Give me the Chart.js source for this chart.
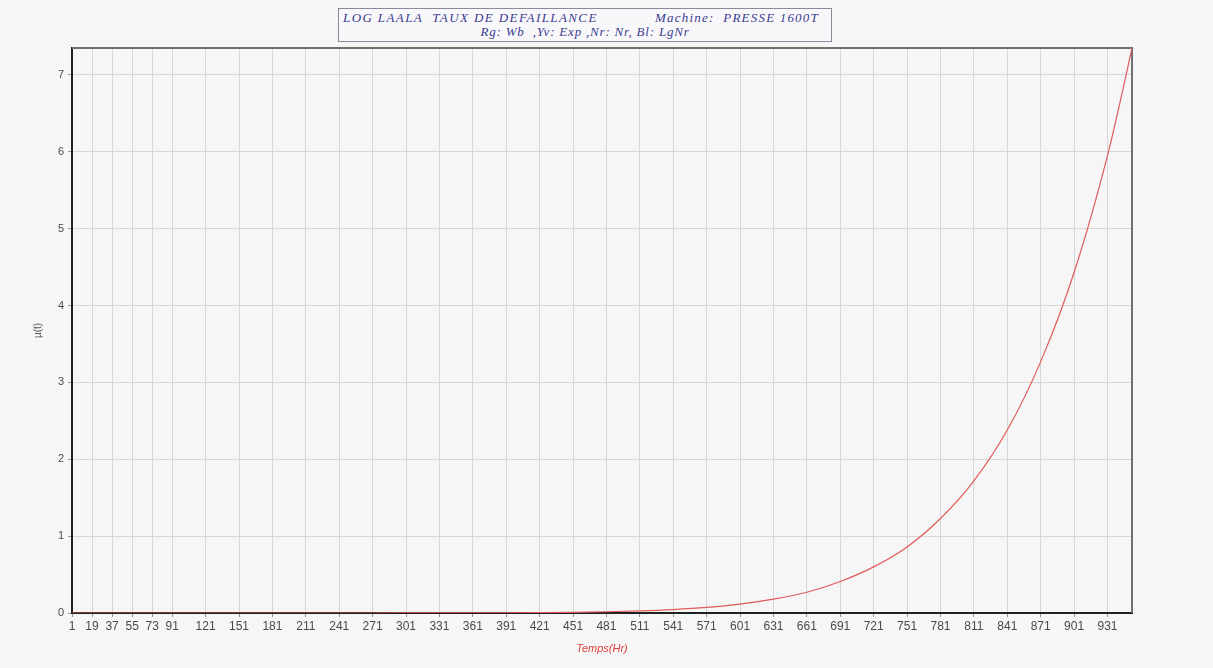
<!DOCTYPE html>
<html>
<head>
<meta charset="utf-8">
<script src="https://cdn.jsdelivr.net/npm/chart.js@4"></script>
<style>
  html, body { margin: 0; padding: 0; background: #f6f6f6; }
  #wrap { position: relative; width: 1213px; height: 668px; }
  #titleBox {
    position: absolute; left: 338px; top: 8px; width: 492px; height: 32px;
    border: 1px solid #8a8a9a; background: #f8f8fb;
    font-family: "Liberation Serif", "DejaVu Serif", serif; font-style: italic;
    font-size: 13px; line-height: 14px; color: #3b3b8f;
  }
  #titleBox div { white-space: pre; position: absolute; }
</style>
</head>
<body>
<div id="wrap">
  <canvas id="lineChart" width="1213" height="668"></canvas>
  <div id="titleBox">
    <div style="left:4px; top:2px; letter-spacing:1.4px">LOG LAALA  TAUX DE DEFAILLANCE</div>
    <div style="left:316px; top:2px; letter-spacing:1.2px">Machine:  PRESSE 1600T</div>
    <div style="left:110px; top:16px; width:272px; text-align:center; letter-spacing:0.8px">Rg: Wb  ,Yv: Exp ,Nr: Nr, Bl: LgNr</div>
  </div>
</div>
<script>
// temps (Hr) and failure rate
var temps = [1, 19, 37, 55, 73, 91, 121, 151, 181, 211, 241, 271, 301, 331, 361, 391, 421, 451, 481, 511, 541, 571, 601, 631, 661, 691, 721, 751, 781, 811, 841, 871, 901, 931, 945, 953];
var taux  = [0, 0, 0, 0, 0, 0, 0, 0, 0, 0, 0.0001, 0.0002, 0.0004, 0.0007, 0.001, 0.002, 0.0045, 0.009, 0.016, 0.027, 0.045, 0.073, 0.116, 0.18, 0.27, 0.41, 0.6, 0.86, 1.23, 1.72, 2.38, 3.27, 4.43, 5.95, 6.82, 7.35];
var xTicks = [1, 19, 37, 55, 73, 91, 121, 151, 181, 211, 241, 271, 301, 331, 361, 391, 421, 451, 481, 511, 541, 571, 601, 631, 661, 691, 721, 751, 781, 811, 841, 871, 901, 931];
var yTicks = [0, 1, 2, 3, 4, 5, 6, 7];

var points = [];
for (var i = 0; i < temps.length; i++) {
  points.push({x: temps[i], y: taux[i]});
}

// gray frame on top / right of the plot
var frame = {
  id: 'frame',
  beforeDatasetsDraw: function(chart) {
    var a = chart.chartArea;
    var c = chart.ctx;
    c.save();
    c.strokeStyle = '#707070';
    c.lineWidth = 2;
    c.beginPath();
    c.moveTo(a.left, a.top);
    c.lineTo(a.right, a.top);
    c.lineTo(a.right, a.bottom);
    c.stroke();
    c.restore();
  }
};

const ctx = document.getElementById('lineChart');

new Chart(ctx, {
  type: 'line',
  data: {
    datasets: [{
      data: points,
      borderColor: '#e05a5a',
      borderWidth: 1.2,
      pointRadius: 0,
      cubicInterpolationMode: 'monotone',
      fill: false
    }]
  },
  options: {
    responsive: false,
    animation: false,
    layout: { padding: { left: 0, right: 81, top: 48, bottom: 0 } },
    plugins: {
      legend: { display: false },
      tooltip: { enabled: false }
    },
    scales: {
      x: {
        type: 'linear',
        min: 1,
        max: 953,
        afterBuildTicks: function(scale) {
          scale.ticks = xTicks.map(function(v) { return {value: v}; });
        },
        afterFit: function(scale) { scale.height = 55; },
        ticks: {
          autoSkip: false,
          maxRotation: 0,
          minRotation: 0,
          padding: 2,
          color: '#4a4a4a',
          font: { family: 'Liberation Sans', size: 12 }
        },
        grid: { color: '#d6d6d6', lineWidth: 1, tickLength: 4, tickColor: '#999' },
        border: { color: '#202020', width: 2 },
        title: {
          display: true,
          text: 'Temps(Hr)',
          color: '#e04040',
          padding: { top: 6, bottom: 12 },
          font: { family: 'Liberation Sans', size: 11, style: 'italic' }
        }
      },
      y: {
        min: 0,
        max: 7.35,
        afterBuildTicks: function(scale) {
          scale.ticks = yTicks.map(function(v) { return {value: v}; });
        },
        afterFit: function(scale) { scale.width = 72; },
        ticks: {
          padding: 4,
          color: '#4a4a4a',
          font: { family: 'Liberation Sans', size: 11 }
        },
        grid: { color: '#d6d6d6', lineWidth: 1, tickLength: 4, tickColor: '#999' },
        border: { color: '#202020', width: 2 },
        title: {
          display: true,
          text: 'µ(t)',
          color: '#555',
          padding: { top: 32, bottom: 0 },
          font: { family: 'Liberation Sans', size: 10 }
        }
      }
    }
  },
  plugins: [frame]
});
</script>
</body>
</html>
